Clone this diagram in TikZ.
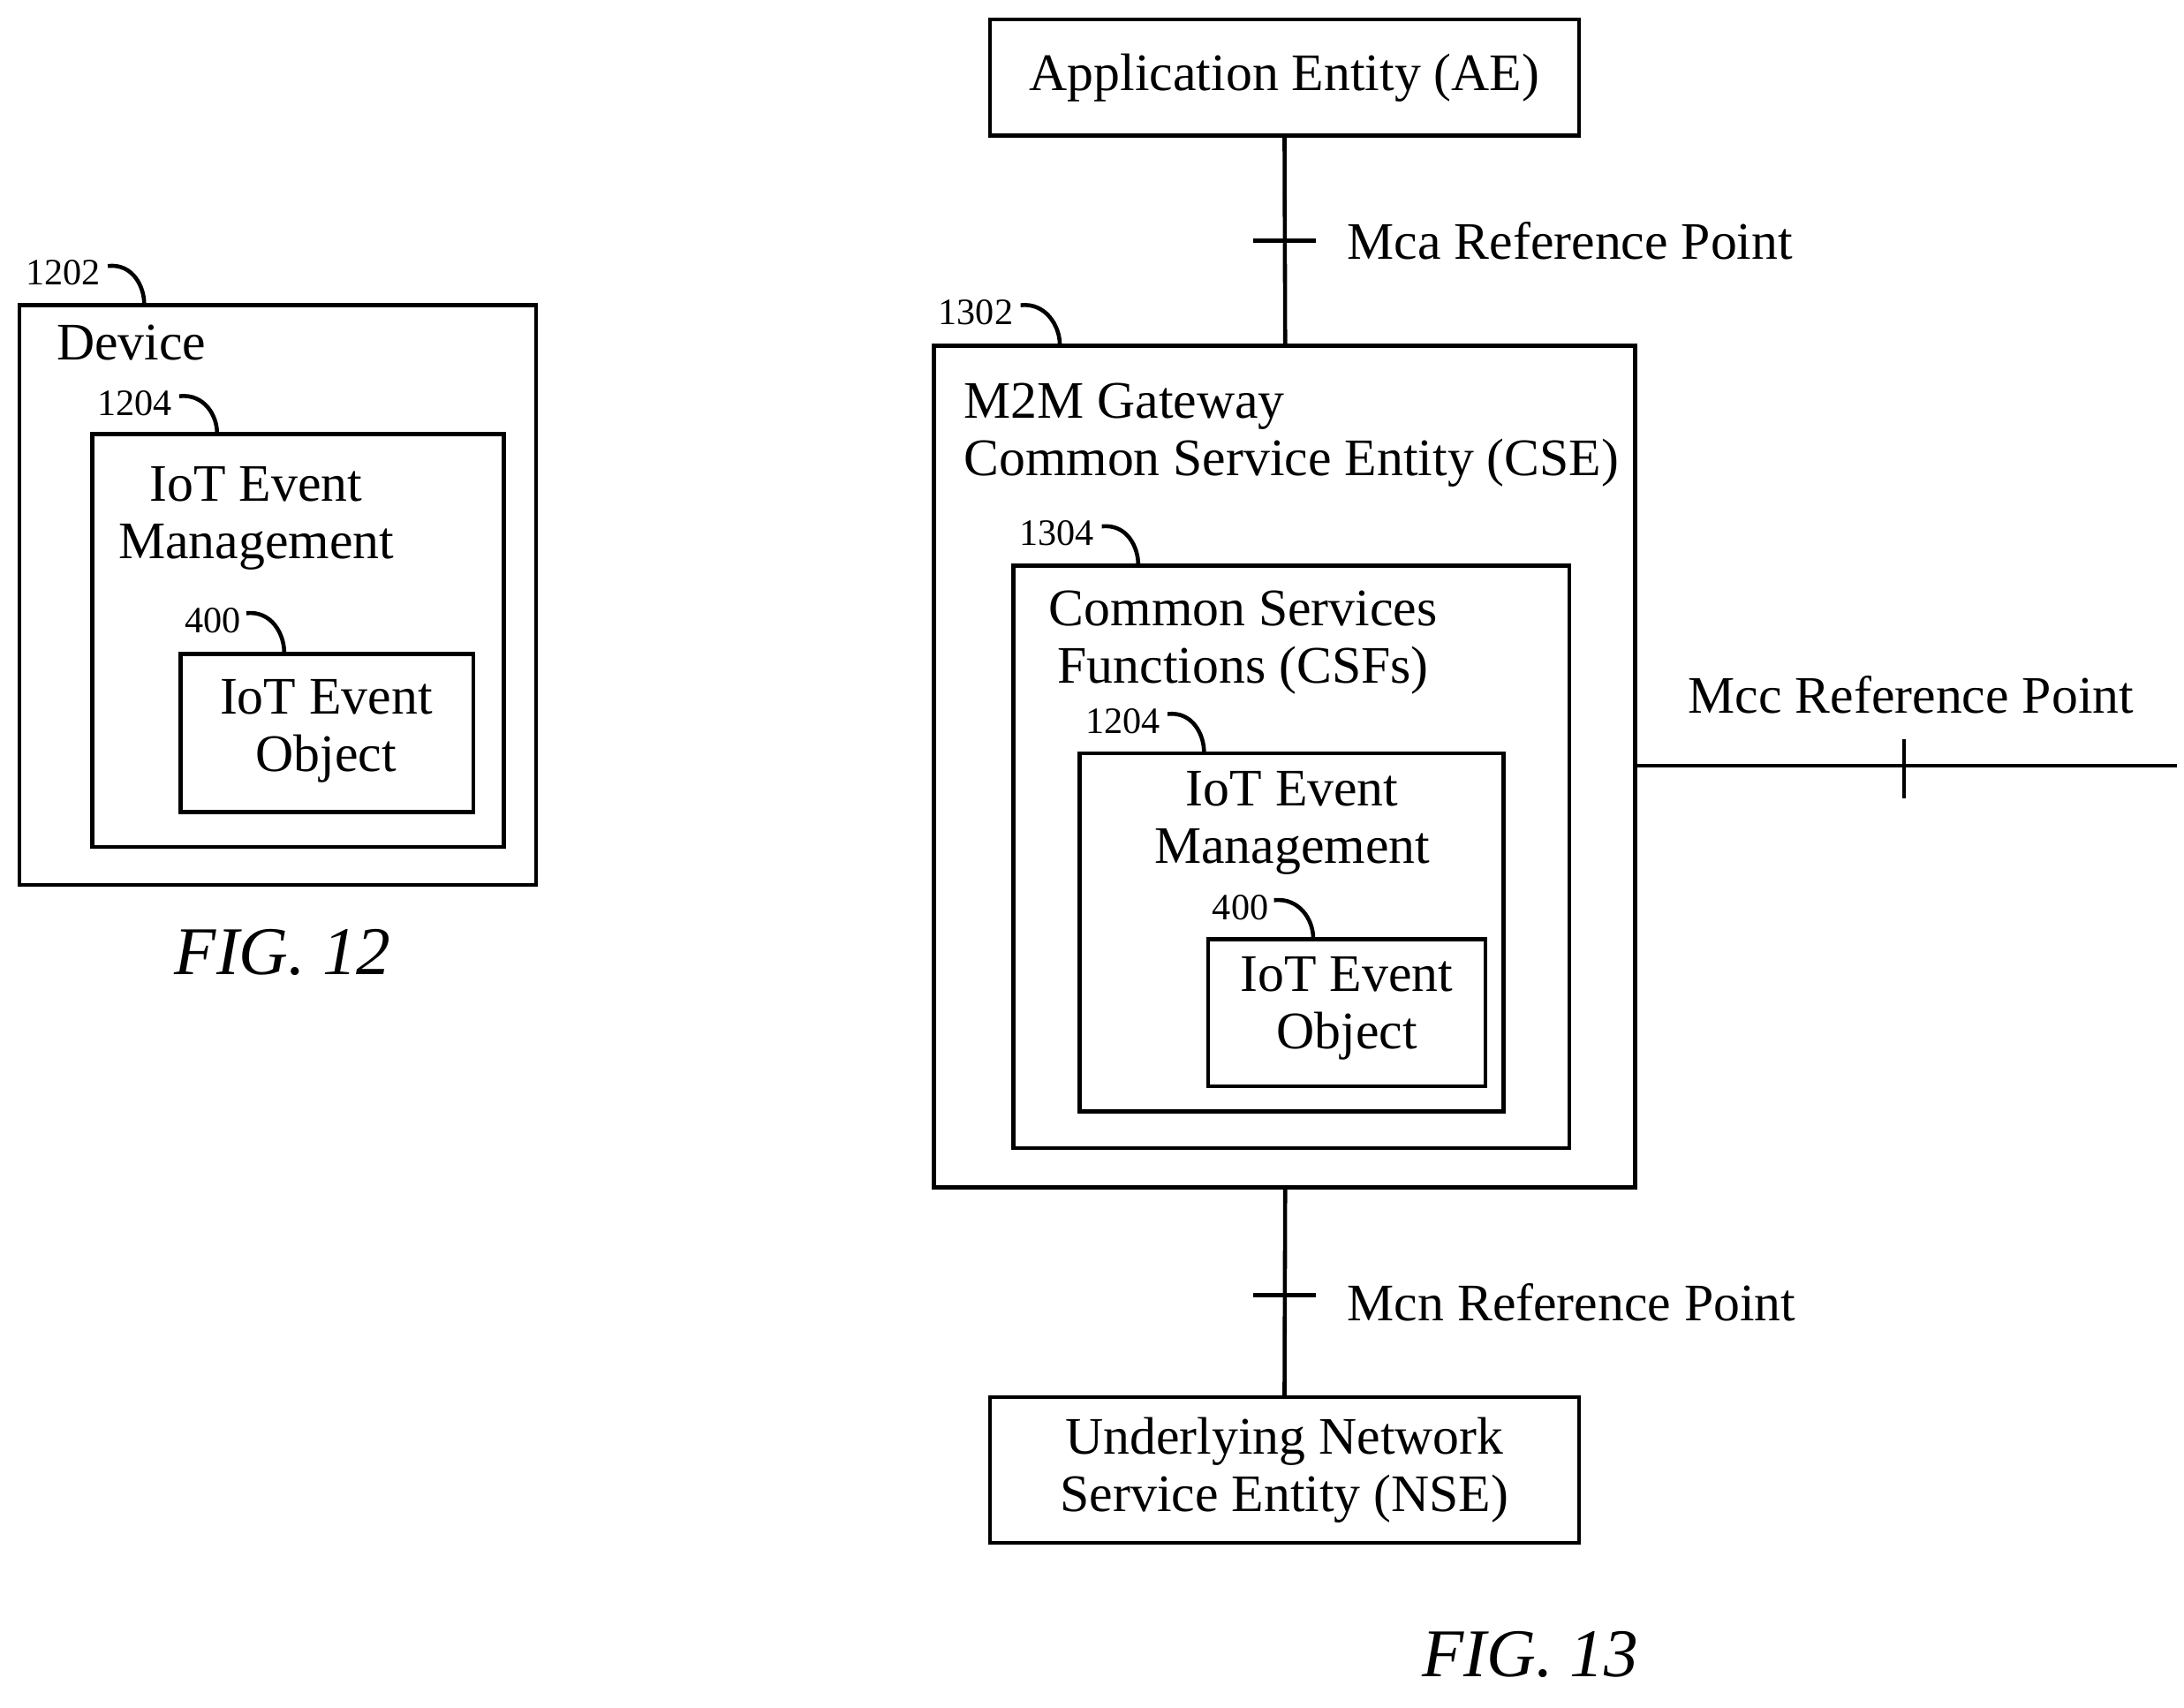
\documentclass[tikz,border=0pt]{standalone}
\usepackage{fontspec}
\setmainfont{Liberation Serif}
\begin{document}
\begin{tikzpicture}[x=0.01585cm,y=-0.01585cm,
  box/.style={draw,line width=1.3pt},
  txt/.style={font=\fontsize{17}{18.5}\selectfont,align=center,inner sep=0},
  num/.style={font=\fontsize{12}{13}\selectfont,inner sep=0},
  fig/.style={font=\fontsize{22}{24}\selectfont\itshape,inner sep=0},
  ln/.style={line width=1.3pt}]
\useasboundingbox (0,0) rectangle (1560,1220);
% FIG 12
\draw[box] (14,218) rectangle (383,632);
\node[txt,anchor=west] (dev) at (40,245) {Device};
\node[num] (n1202) at (45,195) {1202};
\draw[ln] (77,190) .. controls (95,188) and (103,205) .. (103,217);
\draw[box] (66,310) rectangle (360,605);
\node[num] (n1204a) at (96,288) {1204};
\draw[ln] (128,283) .. controls (146,281) and (155,297) .. (155,309);
\node[txt] (mg1) at (183,370) {IoT Event\\Management};
\draw[box] (129,467) rectangle (338,580);
\node[num] (n400a) at (152,443) {400};
\draw[ln] (176,438) .. controls (194,436) and (203,453) .. (203,466);
\node[txt] (ob1) at (233,522) {IoT Event\\Object};
\node[fig] (f12) at (202,680) {FIG. 12};
% FIG 13
\node[box,minimum width=421*0.01585cm,minimum height=83*0.01585cm,txt] (ae) at (917.5,55.5) {Application Entity (AE)};
\draw[box] (667,247) rectangle (1168,848);
\coordinate (gtop) at (918,247);
\coordinate (gbot) at (918,848);
\coordinate (gright) at (1168,547);
\coordinate (mccend) at (1555,547);
\draw[ln] (ae.south) -- (gtop);
\draw[ln] (895,172) -- (940,172);
\node[txt,anchor=west] (mca) at (962,172) {Mca Reference Point};
\node[num] (n1302) at (697,223) {1302};
\draw[ln] (729,218) .. controls (747,216) and (757,233) .. (757,246);
\node[txt,anchor=west,align=left] (gw) at (688,311) {M2M Gateway\\Common Service Entity (CSE)};
\draw[box] (724,404) rectangle (1121,820);
\node[num] (n1304) at (755,381) {1304};
\draw[ln] (787,376) .. controls (805,374) and (813,391) .. (813,403);
\node[txt] (csf) at (888,459) {Common Services\\Functions (CSFs)};
\draw[box] (771,538) rectangle (1074,794);
\node[num] (n1204b) at (802,515) {1204};
\draw[ln] (834,510) .. controls (852,508) and (860,525) .. (860,537);
\node[txt] (mg2) at (923,588) {IoT Event\\Management};
\draw[box] (863,671) rectangle (1061,776);
\node[num] (n400b) at (886,648) {400};
\draw[ln] (910,643) .. controls (928,641) and (938,657) .. (938,670);
\node[txt] (ob2) at (962,720) {IoT Event\\Object};
\draw[ln] (gright) -- (mccend);
\draw[ln] (1360,528) -- (1360,570);
\node[txt] (mcc) at (1365,496) {Mcc Reference Point};
\node[box,minimum width=421*0.01585cm,minimum height=104*0.01585cm,txt] (nse) at (917.5,1050) {Underlying Network\\Service Entity (NSE)};
\draw[ln] (gbot) -- (nse.north);
\draw[ln] (895,925) -- (940,925);
\node[txt,anchor=west] (mcn) at (962,930) {Mcn Reference Point};
\node[fig] (f13) at (1093,1182) {FIG. 13};
\end{tikzpicture}
\end{document}
